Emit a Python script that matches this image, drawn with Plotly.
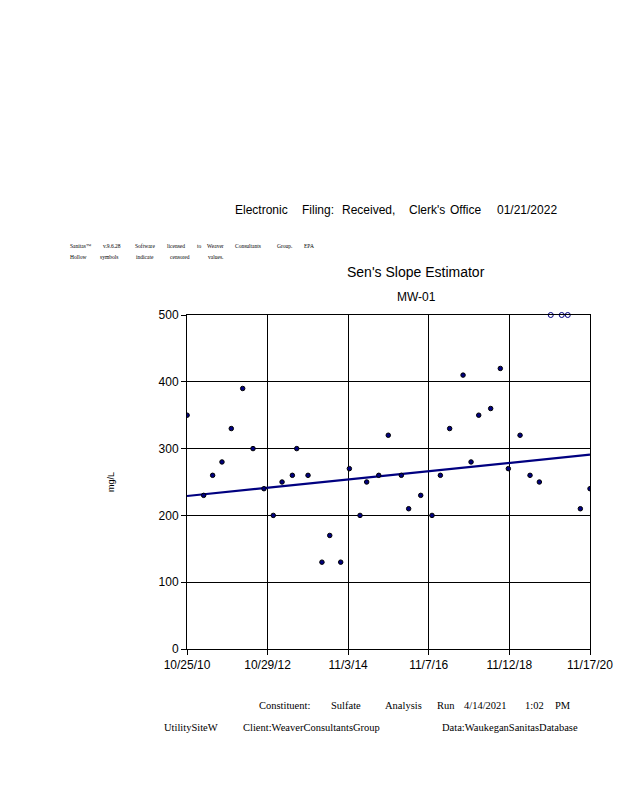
import plotly.graph_objects as go

# ---- data ----
dates = ["2010-10-26", "2011-03-26", "2011-06-16", "2011-09-09", "2011-12-03",
         "2012-03-16", "2012-06-18", "2012-09-26", "2012-12-20", "2013-03-10",
         "2013-06-12", "2013-07-22", "2013-11-02", "2014-03-09", "2014-05-19",
         "2014-08-27", "2014-11-14", "2015-02-19", "2015-04-21", "2015-08-09",
         "2015-11-04", "2016-03-02", "2016-05-08", "2016-08-26", "2016-12-07",
         "2017-02-21", "2017-05-17", "2017-09-16", "2017-11-28", "2018-02-06",
         "2018-05-26", "2018-08-22", "2018-11-03", "2019-02-18", "2019-05-20",
         "2019-08-13", "2020-08-21", "2020-11-17"]
values = [350, 230, 260, 280, 330, 390, 300, 240, 200, 250,
          260, 300, 260, 130, 170, 130, 270, 200, 250, 260,
          320, 260, 210, 230, 200, 260, 330, 410, 280, 350,
          360, 420, 270, 320, 260, 250, 210, 240]

censored_dates = ["2019-11-25", "2020-03-04", "2020-04-28"]
censored_values = [500, 500, 500]

trend_dates = ["2010-10-25", "2020-11-17"]
trend_values = [229, 291]

tick_dates = ["2010-10-25", "2012-10-29", "2014-11-03", "2016-11-07", "2018-11-12", "2020-11-17"]
tick_labels = ["10/25/10", "10/29/12", "11/3/14", "11/7/16", "11/12/18", "11/17/20"]
y_ticks = [0, 100, 200, 300, 400, 500]

navy = "#000080"
SANS = "Arial, Liberation Sans, sans-serif"
SERIF = "Liberation Serif, Times New Roman, serif"

fig = go.Figure()
fig.add_trace(go.Scatter(x=trend_dates, y=trend_values, mode="lines",
                         line=dict(color=navy, width=2.2), showlegend=False, hoverinfo="skip"))
fig.add_trace(go.Scatter(x=dates, y=values, mode="markers",
                         marker=dict(symbol="circle", size=4.5, color=navy,
                                     line=dict(color="black", width=1)),
                         showlegend=False))
fig.add_trace(go.Scatter(x=censored_dates, y=censored_values, mode="markers",
                         marker=dict(symbol="circle", size=5, color="white",
                                     line=dict(color=navy, width=1)),
                         showlegend=False, cliponaxis=False))

# plot area in page pixels: x 187-590, y 315-649
fig.update_layout(
    width=618, height=800,
    margin=dict(l=187, r=28, t=315, b=151, autoexpand=False),
    paper_bgcolor="white", plot_bgcolor="white",
    font=dict(family=SANS, color="black"),
    xaxis=dict(type="date", range=[trend_dates[0], trend_dates[1]],
               tickvals=tick_dates, ticktext=tick_labels,
               showgrid=True, gridcolor="black", gridwidth=1,
               showline=True, linecolor="black", linewidth=1, mirror=True,
               ticks="outside", ticklen=5, tickcolor="black",
               tickfont=dict(size=12, color="black"), zeroline=False),
    yaxis=dict(range=[0, 500], tickvals=y_ticks,
               showgrid=True, gridcolor="black", gridwidth=1,
               showline=True, linecolor="black", linewidth=1, mirror=True,
               ticks="outside", ticklen=5, tickcolor="black",
               tickfont=dict(size=12, color="black"), zeroline=False),
)

ann = []
def word_row(words, xs, y, size, family, xanchor="left"):
    for w, x in zip(words, xs):
        ann.append(dict(text=w, x=x, y=y, xanchor=xanchor, yanchor="middle",
                        font=dict(size=size, family=family)))

word_row(["Electronic", "Filing:", "Received,", "Clerk's", "Office", "01/21/2022"],
         [233, 300, 340, 407, 448, 495], 210, 12, SANS)
word_row(["Sanitas™", "v.9.6.28", "Software", "licensed", "to", "Weaver", "Consultants", "Group.", "EPA"],
         [68, 101, 133, 165, 195, 205, 233, 275, 302], 246, 5.5, SERIF)
word_row(["Hollow", "symbols", "indicate", "censored", "values."],
         [68, 98, 134, 168, 206], 257, 5.5, SERIF)
ann.append(dict(text="Sen's Slope Estimator", x=416, y=272, xanchor="center", yanchor="middle",
                font=dict(size=14, family=SANS)))
ann.append(dict(text="MW-01", x=416, y=297, xanchor="center", yanchor="middle",
                font=dict(size=12, family=SANS)))
ann.append(dict(text="mg/L", x=111, y=482, xanchor="center", yanchor="middle", textangle=-90,
                font=dict(size=9, family=SANS)))
word_row(["Constituent:", "Sulfate", "Analysis", "Run", "4/14/2021", "1:02", "PM"],
         [257, 329, 383, 435, 462, 523, 553], 705, 10.5, SERIF)
word_row(["UtilitySiteW", "Client:WeaverConsultantsGroup", "Data:WaukeganSanitasDatabase"],
         [162, 241, 440], 727, 10.5, SERIF)

for a in ann:
    a.update(xref="paper", yref="paper", showarrow=False)
    px, py = a["x"], a["y"]
    a["x"] = (px - 187) / (590 - 187)
    a["y"] = (649 - py) / (649 - 315)
fig.update_layout(annotations=ann)

fig.write_html("out.html",
               config={"displayModeBar": False},
               post_script="document.body.style.margin='0';"
                           "document.documentElement.style.overflow='hidden';")
